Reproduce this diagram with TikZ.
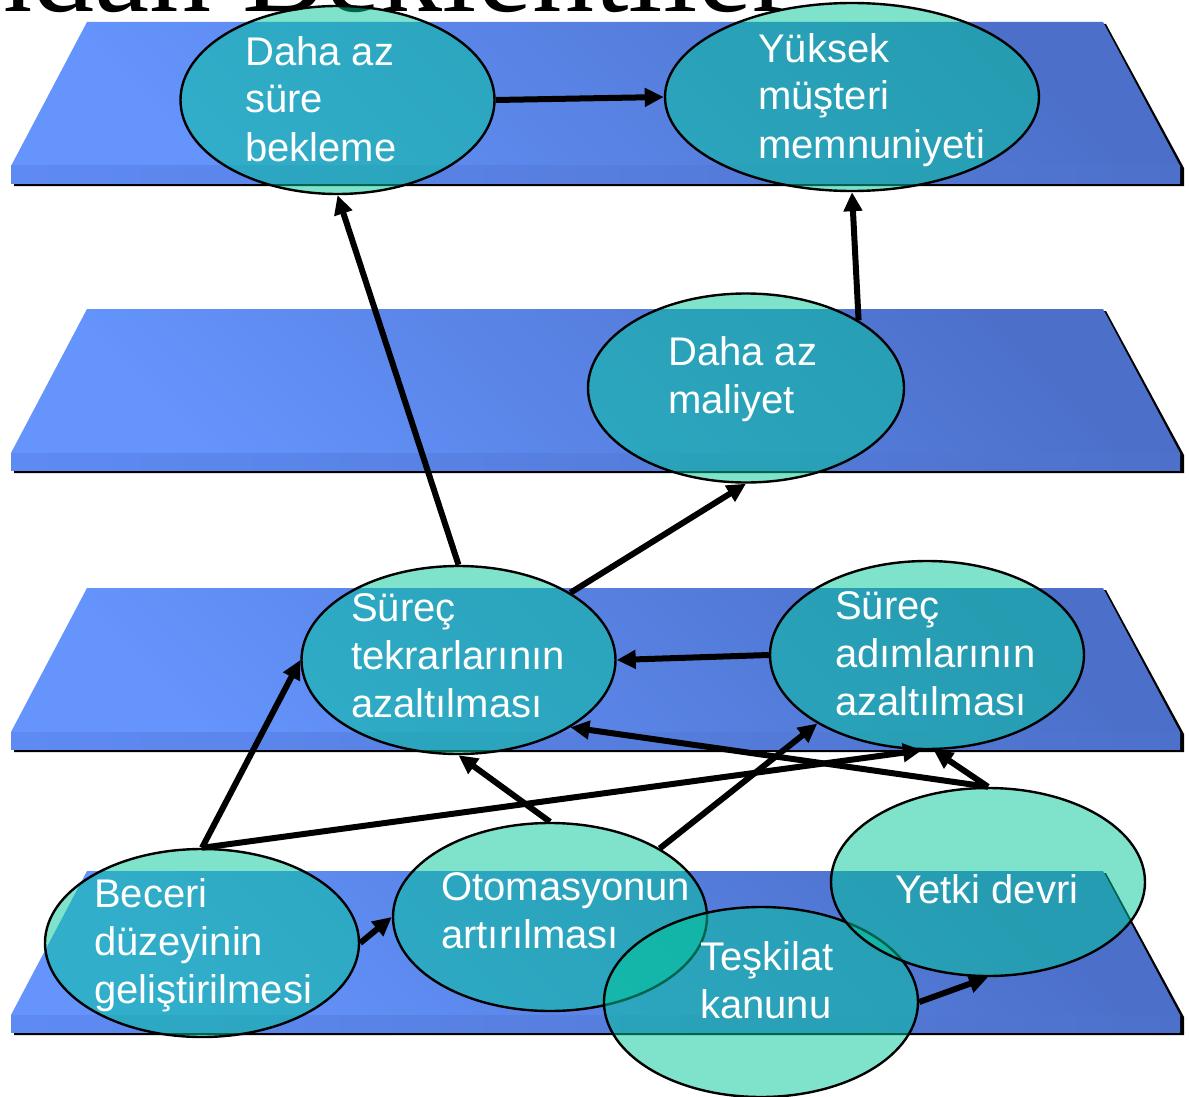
\documentclass[tikz,border=0pt]{standalone}
\usepackage{fontspec}
\setmainfont{Liberation Sans}
\newfontfamily\headserif{Liberation Serif}
\usetikzlibrary{shapes.geometric,arrows.meta}

\definecolor{faceDark}{HTML}{4C70CA}
\definecolor{faceLight}{HTML}{6494FC}
\definecolor{slabLight}{HTML}{5E8BF3}
\definecolor{slabDark}{HTML}{4D71CA}
\definecolor{bubbleFill}{RGB}{0,200,153}

\tikzset{
  bubble/.style={ellipse, draw=black, line width=2.4pt, fill=bubbleFill,
    fill opacity=0.5, minimum width=314pt, minimum height=188pt, inner sep=0pt},
  % anchored at the baseline of the last line
  bubbletext/.style={anchor=base west, inner sep=0pt, align=left, text=white,
    font=\fontsize{40}{48}\selectfont},
  link/.style={line width=6pt, -{Triangle[length=19pt,width=18pt]}},
}

\begin{document}
\begin{tikzpicture}[x=1pt,y=-1pt]
\useasboundingbox (0,0) rectangle (1189,1097);
\clip (0,0) rectangle (1189,1097);

% heading, mostly above the page edge
\node[anchor=base east, inner sep=0pt, font=\headserif\fontsize{124}{130}\selectfont]
  (title) at (794,12) {ndan Beklentiler};

% the four levels: shadow, top face, front edge
\foreach \t in {22,309,588,871}{
  \fill[black] (90,\t+2) -- (1106,\t+2) -- (1184,\t+146) -- (1184,\t+164)
    -- (14,\t+164) -- (14,\t+146) -- cycle;
  \shade[top color=faceDark, bottom color=faceLight, shading angle=-45]
    (87,\t) -- (1103,\t) -- (1180,\t+144) -- (11,\t+144) -- cycle;
  \shade[left color=slabLight, right color=slabDark]
    (11,\t+144) rectangle (1180,\t+161);
}

% goals and measures
\node[bubble] (sure) at (337.5,100) {};
\node[bubble, minimum width=374pt] (yuksek) at (852,97) {};
\node[bubble, minimum width=316pt, minimum height=189pt] (maliyet) at (746,388) {};
\node[bubble] (tekrar) at (458.5,660) {};
\node[bubble] (adim) at (927,655) {};
\node[bubble] (beceri) at (202,943) {};
\node[bubble] (otomasyon) at (550,917) {};
\node[bubble, minimum height=190pt] (teskilat) at (761,1002) {};
\node[bubble] (yetki) at (988,882) {};

% labels
\node[bubbletext] (sureT) at (245,161) {Daha az\\süre\\bekleme};
\node[bubbletext] (yuksekT) at (758,158) {Yüksek\\müşteri\\memnuniyeti};
\node[bubbletext] (maliyetT) at (668,413) {Daha az\\maliyet};
\node[bubbletext] (tekrarT) at (351,717) {Süreç\\tekrarlarının\\azaltılması};
\node[bubbletext] (adimT) at (835,715) {Süreç\\adımlarının\\azaltılması};
\node[bubbletext] (beceriT) at (94,1003) {Beceri\\düzeyinin\\geliştirilmesi};
\node[bubbletext] (otomasyonT) at (441,948) {Otomasyonun\\artırılması};
\node[bubbletext] (teskilatT) at (700,1018) {Teşkilat\\kanunu};
\node[bubbletext] (yetkiT) at (895,903) {Yetki devri};

% links
\draw[link] (sure.east) -- (yuksek.west);
\draw[link] (maliyet.31) -- (yuksek.south);
\draw[link] (tekrar.north) -- (sure.south);
\draw[link] (tekrar.31) -- (maliyet.south);
\draw[link] (adim.west) -- (tekrar.east);
\draw[link] (beceri.north) -- (tekrar.west);
\draw[link] (beceri.north) -- (adim.-93);
\draw[link] (otomasyon.north) -- (tekrar.south);
\draw[link] (otomasyon.32) -- (adim.212);
\draw[link] (yetki.north) -- (tekrar.-31);
\draw[link] (yetki.north) -- (adim.-86);
\draw[link] (beceri.east) -- (otomasyon.west);
\draw[link] (teskilat.east) -- (yetki.south);
\end{tikzpicture}
\end{document}
